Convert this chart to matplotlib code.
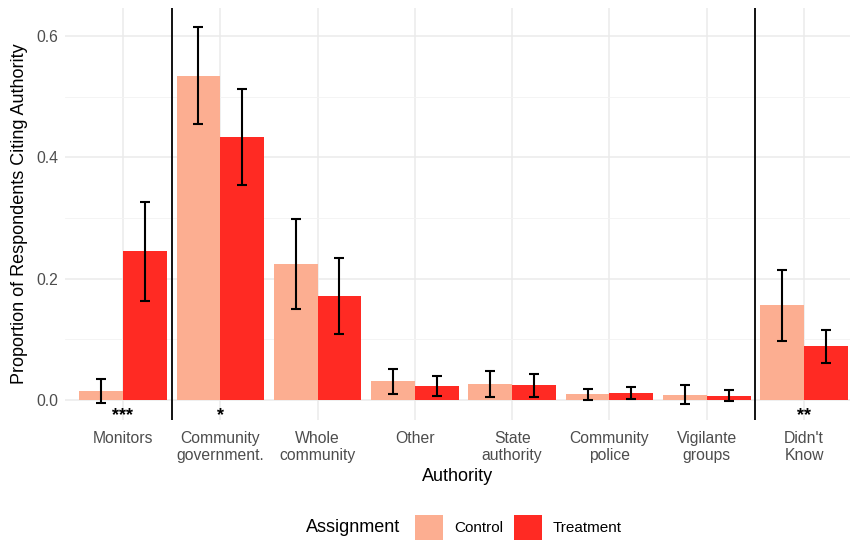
import matplotlib
matplotlib.use("Agg")
import matplotlib.pyplot as plt
from matplotlib.patches import Rectangle
import numpy as np

plt.rcParams['font.family'] = ['Liberation Sans', 'DejaVu Sans']

categories = ["Monitors", "Community\ngovernment.", "Whole\ncommunity", "Other",
              "State\nauthority", "Community\npolice", "Vigilante\ngroups", "Didn't\nKnow"]
control = [0.015, 0.534, 0.224, 0.031, 0.026, 0.010, 0.008, 0.156]
control_lo = [-0.005, 0.455, 0.150, 0.010, 0.005, 0.000, -0.007, 0.098]
control_hi = [0.035, 0.615, 0.298, 0.051, 0.048, 0.018, 0.024, 0.214]
treatment = [0.245, 0.433, 0.171, 0.023, 0.024, 0.011, 0.006, 0.089]
treatment_lo = [0.163, 0.354, 0.109, 0.007, 0.005, 0.001, -0.001, 0.061]
treatment_hi = [0.326, 0.513, 0.234, 0.040, 0.043, 0.021, 0.016, 0.116]
stars = ["***", "*", "", "", "", "", "", "**"]
groups = ["Control", "Treatment"]

c_col = "#FCAE91"
t_col = "#FF2A23"

W, H = 852, 540
fig = plt.figure(figsize=(W/100, H/100), dpi=100)
ax_l, ax_r, ax_t, ax_b = 65, 850, 8, 420
ax = fig.add_axes([ax_l/W, 1-ax_b/H, (ax_r-ax_l)/W, (ax_b-ax_t)/H])

x = np.arange(len(categories))
w = 0.45
ax.bar(x - w/2, control, width=w, color=c_col, zorder=2)
ax.bar(x + w/2, treatment, width=w, color=t_col, zorder=2)

c = np.array(control); t = np.array(treatment)
ax.errorbar(x - w/2, c, yerr=[c - np.array(control_lo), np.array(control_hi) - c],
            fmt='none', ecolor='black', elinewidth=1.5, capsize=3.7, capthick=1.5, zorder=3)
ax.errorbar(x + w/2, t, yerr=[t - np.array(treatment_lo), np.array(treatment_hi) - t],
            fmt='none', ecolor='black', elinewidth=1.5, capsize=3.7, capthick=1.5, zorder=3)

for xi, s in zip(x, stars):
    if s:
        ax.text(xi, -0.026, s, ha='center', va='center', fontsize=13, fontweight='bold', zorder=4)

ax.axvline(0.5, color='black', lw=1.3, zorder=4)
ax.axvline(6.5, color='black', lw=1.3, zorder=4)

ax.set_xlim(-0.596, 7.472)
ax.set_ylim(-0.033, 0.646)
ax.set_yticks([0, 0.2, 0.4, 0.6])
ax.set_yticklabels(["0.0", "0.2", "0.4", "0.6"])
ax.set_yticks([0.1, 0.3, 0.5], minor=True)
ax.set_xticks(x)
ax.set_xticklabels(categories, linespacing=1.12)
ax.tick_params(axis='both', which='both', length=0, labelsize=11.3, labelcolor='#4d4d4d')
ax.tick_params(axis='x', pad=8)
ax.tick_params(axis='y', pad=5)
ax.grid(which='major', color='#ebebeb', lw=1.1, zorder=0)
ax.grid(which='minor', axis='y', color='#f3f3f3', lw=0.6, zorder=0)
for sp in ax.spines.values():
    sp.set_visible(False)

ax.set_xlabel("Authority", fontsize=13, labelpad=4)
ax.set_ylabel("Proportion of Respondents Citing Authority", fontsize=13, labelpad=6)

# legend at bottom, title to the left of the keys
ly = 1 - 528/H
fig.text(306/W, ly, "Assignment", fontsize=13, ha='left', va='center')
key_w, key_h = 28, 26
for kx, col, lab, tx in [(415, c_col, groups[0], 454), (514, t_col, groups[1], 553)]:
    fig.patches.append(Rectangle((kx/W, (H-528-key_h/2)/H), key_w/W, key_h/H,
                                 transform=fig.transFigure, facecolor=col, edgecolor='none'))
    fig.text(tx/W, ly, lab, fontsize=11, ha='left', va='center')

fig.savefig("out.png", dpi=100)
